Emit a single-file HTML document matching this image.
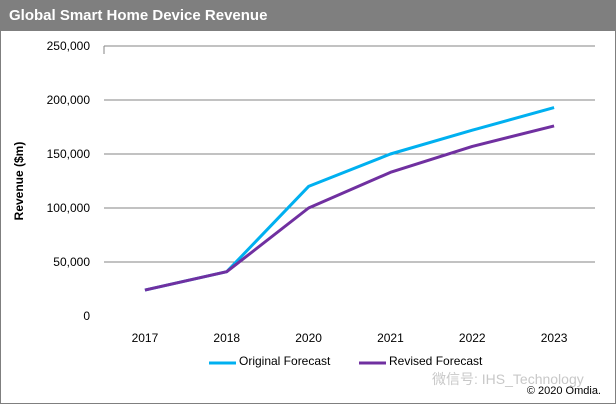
<!DOCTYPE html>
<html><head><meta charset="utf-8"><style>
body{margin:0;background:#fff;font-family:"Liberation Sans","Noto Sans CJK SC",sans-serif}
#wrap{position:relative;width:614px;height:402px;border:1px solid #7f7f7f;overflow:hidden}
#title{position:absolute;left:0;top:0;width:614px;height:30px;background:#7f7f7f;color:#fff;font-weight:bold;font-size:15px;line-height:30px;padding-left:8px;box-sizing:border-box}
svg{position:absolute;left:-1px;top:-1px}
</style></head><body>
<div id="wrap">
<div id="title">Global Smart Home Device Revenue</div>
<svg id="chart" width="616" height="404"></svg>
</div>
<script>
const categories=["2017","2018","2020","2021","2022","2023"];
const originalValues=[24000,41000,120000,150000,172000,193000];
const revisedValues=[24000,41000,100000,133000,157000,176000];
const yTicks=[0,50000,100000,150000,200000,250000];
const NS="http://www.w3.org/2000/svg";
const svg=document.getElementById('chart');
const x0=104,x1=595,yTop=46,yBot=316,yMax=250000;
const step=(x1-x0)/categories.length;
function xs(i){return x0+step*(i+0.5);}
function ys(v){return yBot-(v/yMax)*(yBot-yTop);}
function mk(tag,attrs){const e=document.createElementNS(NS,tag);for(const k in attrs)e.setAttribute(k,attrs[k]);svg.appendChild(e);return e;}
yTicks.forEach(t=>{
  if(t>0){const l=mk('line',{x1:x0,x2:x1,y1:ys(t),y2:ys(t),stroke:'#868686','stroke-width':1});
  
  }
  const tx=mk('text',{x:90,y:ys(t)+4,'text-anchor':'end','font-size':12,fill:'#000'});
  tx.textContent=t.toLocaleString('en-US');
  
  
});
const ax=mk('line',{x1:x0,x2:x0,y1:yTop,y2:yTop+8,stroke:'#868686'});


categories.forEach((c,i)=>{
  const tx=mk('text',{x:xs(i),y:342,'text-anchor':'middle','font-size':12,fill:'#000'});
  tx.textContent=c;
  
  
});
const yt=mk('text',{x:0,y:0,transform:'translate(23,181) rotate(-90)','text-anchor':'middle','font-size':12,'font-weight':'bold'});
yt.textContent='Revenue ($m)';


function series(vals,color,name){
  const p=mk('polyline',{points:vals.map((v,i)=>xs(i)+','+ys(v)).join(' '),fill:'none',stroke:color,'stroke-width':3,'stroke-linejoin':'round'});
  
  
}
series(originalValues,'#00b0f0','original-forecast-line');
series(revisedValues,'#7030a0','revised-forecast-line');
function legend(x,color,label,name){
  const l=mk('line',{x1:x,x2:x+27,y1:363,y2:363,stroke:color,'stroke-width':3});
  
  
  const t=mk('text',{x:x+30,y:365,'font-size':12});
  t.textContent=label;
  
  
}
legend(209,'#00b0f0','Original Forecast','legend-original');
legend(359,'#7030a0','Revised Forecast','legend-revised');
const wm=mk('text',{x:432,y:384,'font-size':14,fill:'#c8c8c8'});
wm.textContent='微信号: IHS_Technology';


const cp=mk('text',{x:601,y:394,'text-anchor':'end','font-size':11});
cp.textContent='© 2020 Omdia.';


</script>
</body></html>
